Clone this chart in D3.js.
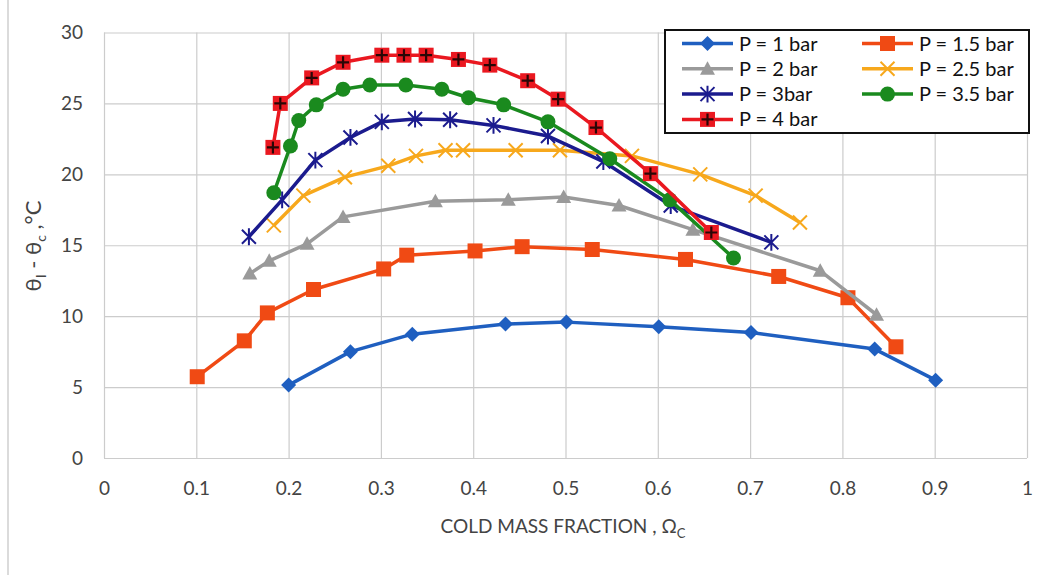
<!DOCTYPE html>
<html>
<head>
<meta charset="utf-8">
<script src="https://cdn.jsdelivr.net/npm/d3@7"></script>
<style>
  body { margin: 0; background: #fff; }
  svg { display: block; font-family: Lato, "Open Sans", sans-serif; }
</style>
</head>
<body>
<div id="chart"></div>
<script>
// data
const seriesNames = ["P = 1 bar", "P = 1.5 bar", "P = 2 bar", "P = 2.5 bar", "P = 3bar", "P = 3.5 bar", "P = 4 bar"];

const xTicks = [0, 0.1, 0.2, 0.3, 0.4, 0.5, 0.6, 0.7, 0.8, 0.9, 1];
const yTicks = [0, 5, 10, 15, 20, 25, 30];

const p1X = [0.200, 0.267, 0.334, 0.435, 0.501, 0.601, 0.701, 0.835, 0.901];
const p1Y = [5.14, 7.50, 8.73, 9.44, 9.58, 9.25, 8.85, 7.68, 5.49];

const p15X = [0.101, 0.152, 0.177, 0.227, 0.303, 0.328, 0.402, 0.453, 0.529, 0.630, 0.731, 0.806, 0.858];
const p15Y = [5.73, 8.26, 10.23, 11.88, 13.33, 14.30, 14.60, 14.90, 14.70, 14.00, 12.80, 11.30, 7.84];

const p2X = [0.158, 0.179, 0.220, 0.259, 0.359, 0.438, 0.498, 0.558, 0.638, 0.776, 0.837];
const p2Y = [13.0, 13.9, 15.1, 17.0, 18.1, 18.2, 18.4, 17.8, 16.1, 13.2, 10.1];

const p25X = [0.184, 0.216, 0.261, 0.308, 0.338, 0.370, 0.389, 0.446, 0.494, 0.572, 0.646, 0.706, 0.754];
const p25Y = [16.4, 18.5, 19.8, 20.6, 21.3, 21.7, 21.7, 21.7, 21.7, 21.3, 20.0, 18.5, 16.6];

const p3X = [0.157, 0.193, 0.229, 0.267, 0.301, 0.337, 0.375, 0.422, 0.481, 0.541, 0.614, 0.723];
const p3Y = [15.6, 18.2, 21.0, 22.6, 23.7, 23.9, 23.85, 23.45, 22.7, 20.9, 17.8, 15.2];

const p35X = [0.184, 0.202, 0.211, 0.230, 0.259, 0.288, 0.327, 0.366, 0.395, 0.433, 0.481, 0.548, 0.613, 0.682];
const p35Y = [18.7, 22.0, 23.8, 24.9, 26.0, 26.3, 26.3, 26.0, 25.4, 24.9, 23.7, 21.1, 18.2, 14.1];

const p4X = [0.183, 0.191, 0.225, 0.259, 0.301, 0.325, 0.349, 0.384, 0.418, 0.459, 0.492, 0.533, 0.592, 0.658];
const p4Y = [21.9, 25.0, 26.8, 27.9, 28.4, 28.4, 28.4, 28.1, 27.7, 26.6, 25.3, 23.3, 20.05, 15.9];

const seriesX = [p1X, p15X, p2X, p25X, p3X, p35X, p4X];
const seriesY = [p1Y, p15Y, p2Y, p25Y, p3Y, p35Y, p4Y];
const colors = ["#1f5fc0", "#f04a14", "#9a9a9a", "#f7a81c", "#1b1b8e", "#1a8a1e", "#ea1820"];
const markers = ["diamond", "square", "triangle", "x", "star", "circle", "plus"];

const series = seriesNames.map((name, i) => ({
  name: name,
  color: colors[i],
  marker: markers[i],
  points: seriesX[i].map((x, j) => ({ x: x, y: seriesY[i][j] }))
}));

let width = 1053, height = 575;
let margin = { top: 32.5, left: 104, right: 26, bottom: 117 };
let plotW = width - margin.left - margin.right,
    plotH = height - margin.top - margin.bottom;

let svg = d3.select("#chart")
  .append("svg")
  .attr("width", width)
  .attr("height", height);

// scan border on the left
svg.append("line")
  .attr("x1", 8).attr("x2", 8)
  .attr("y1", 0).attr("y2", height)
  .attr("stroke", "#cfcfcf")
  .attr("stroke-width", 1.5);

const x = d3.scaleLinear().domain([0, 1]).range([margin.left, margin.left + plotW]);
const y = d3.scaleLinear().domain([0, 30]).range([margin.top + plotH, margin.top]);

// gridlines
svg.append("g")
  .attr("class", "grid")
  .attr("transform", `translate(0,${margin.top + plotH})`)
  .call(d3.axisBottom(x).tickValues(xTicks).tickSize(-plotH).tickFormat(""))
  .call(g => g.select(".domain").remove());

svg.append("g")
  .attr("class", "grid")
  .attr("transform", `translate(${margin.left},0)`)
  .call(d3.axisLeft(y).tickValues(yTicks).tickSize(-plotW).tickFormat(""))
  .call(g => g.select(".domain").remove());

svg.selectAll(".grid line")
  .attr("stroke", "#cccccc")
  .attr("stroke-width", 1.2);

// tick labels
svg.append("g")
  .attr("class", "xlabels")
  .attr("transform", `translate(0,${margin.top + plotH})`)
  .call(d3.axisBottom(x).tickValues(xTicks).tickSize(0).tickPadding(24).tickFormat(d3.format("")))
  .call(g => g.select(".domain").remove());

svg.append("g")
  .attr("class", "ylabels")
  .attr("transform", `translate(${margin.left},0)`)
  .call(d3.axisLeft(y).tickValues(yTicks).tickSize(0).tickPadding(21))
  .call(g => g.select(".domain").remove());

svg.selectAll(".xlabels text, .ylabels text")
  .attr("font-family", "Lato, sans-serif")
  .attr("font-size", 19)
  .attr("fill", "#444");

// axis titles
svg.append("text")
  .attr("x", 563)
  .attr("y", 533)
  .attr("text-anchor", "middle")
  .attr("font-size", 19)
  .attr("fill", "#444")
  .call(t => {
    t.append("tspan").text("COLD MASS FRACTION ,  Ω");
    t.append("tspan").attr("font-size", 13).attr("dy", 5).text("C");
  });

svg.append("text")
  .attr("transform", "translate(41,246) rotate(-90)")
  .attr("text-anchor", "middle")
  .attr("font-size", 22)
  .attr("fill", "#444")
  .call(t => {
    t.append("tspan").text("θ");
    t.append("tspan").attr("font-size", 14).attr("dy", 5).text("I");
    t.append("tspan").attr("dy", -5).text(" - θ");
    t.append("tspan").attr("font-size", 14).attr("dy", 5).text("c");
    t.append("tspan").attr("dy", -5).text(" ,°C");
  });

// marker drawing
function drawMarker(sel, type, color, s) {
  if (type === "circle") {
    sel.append("circle").attr("r", s).attr("fill", color);
  } else if (type === "diamond") {
    sel.append("path").attr("d", `M0,${-s}L${s},0L0,${s}L${-s},0Z`).attr("fill", color);
  } else if (type === "square") {
    sel.append("rect").attr("x", -s).attr("y", -s).attr("width", 2 * s).attr("height", 2 * s).attr("fill", color);
  } else if (type === "triangle") {
    sel.append("path").attr("d", `M0,${-s}L${s},${s * 0.8}L${-s},${s * 0.8}Z`).attr("fill", color);
  } else if (type === "x") {
    sel.append("path").attr("d", `M${-s},${-s}L${s},${s}M${-s},${s}L${s},${-s}`)
      .attr("stroke", color).attr("stroke-width", 2).attr("fill", "none");
  } else if (type === "star") {
    sel.append("path").attr("d", `M${-s},${-s}L${s},${s}M${-s},${s}L${s},${-s}M0,${-s * 1.2}L0,${s * 1.2}`)
      .attr("stroke", color).attr("stroke-width", 2).attr("fill", "none");
  } else if (type === "plus") {
    sel.append("rect").attr("x", -s).attr("y", -s).attr("width", 2 * s).attr("height", 2 * s).attr("fill", color);
    sel.append("path").attr("d", `M${-s * 0.8},0L${s * 0.8},0M0,${-s * 0.8}L0,${s * 0.8}`)
      .attr("stroke", "#2a0606").attr("stroke-width", 2.2);
  }
}

const markerSize = { circle: 7.5, diamond: 7.5, square: 7.5, triangle: 7.5, x: 7, star: 7, plus: 7.5 };

const line = d3.line()
  .x(d => x(d.x))
  .y(d => y(d.y));

series.forEach(s => {
  const g = svg.append("g").attr("class", "series");
  g.append("path")
    .datum(s.points)
    .attr("d", line)
    .attr("fill", "none")
    .attr("stroke", s.color)
    .attr("stroke-width", 3.5)
    .attr("stroke-linejoin", "round");
  g.selectAll("g.pt")
    .data(s.points)
    .enter()
    .append("g")
    .attr("class", "pt")
    .attr("transform", d => `translate(${x(d.x)},${y(d.y)})`)
    .each(function () { drawMarker(d3.select(this), s.marker, s.color, markerSize[s.marker]); });
});

// legend
const legend = svg.append("g").attr("class", "legend");
legend.append("rect")
  .attr("x", 665).attr("y", 30)
  .attr("width", 364).attr("height", 103)
  .attr("fill", "#fff")
  .attr("stroke", "#111")
  .attr("stroke-width", 2);

series.forEach((s, i) => {
  const col = i % 2, row = Math.floor(i / 2);
  const lx = col === 0 ? 682 : 862;
  const ly = 43.5 + row * 25.3;
  const item = legend.append("g").attr("transform", `translate(${lx},${ly})`);
  item.append("line")
    .attr("x1", 0).attr("x2", 51)
    .attr("stroke", s.color)
    .attr("stroke-width", 3.5);
  drawMarker(item.append("g").attr("transform", "translate(25.5,0)"), s.marker, s.color, markerSize[s.marker]);
  item.append("text")
    .attr("x", 57)
    .attr("y", 0)
    .attr("dy", "0.35em")
    .attr("font-size", 20)
    .attr("fill", "#111")
    .text(s.name);
});
</script>
</body>
</html>
